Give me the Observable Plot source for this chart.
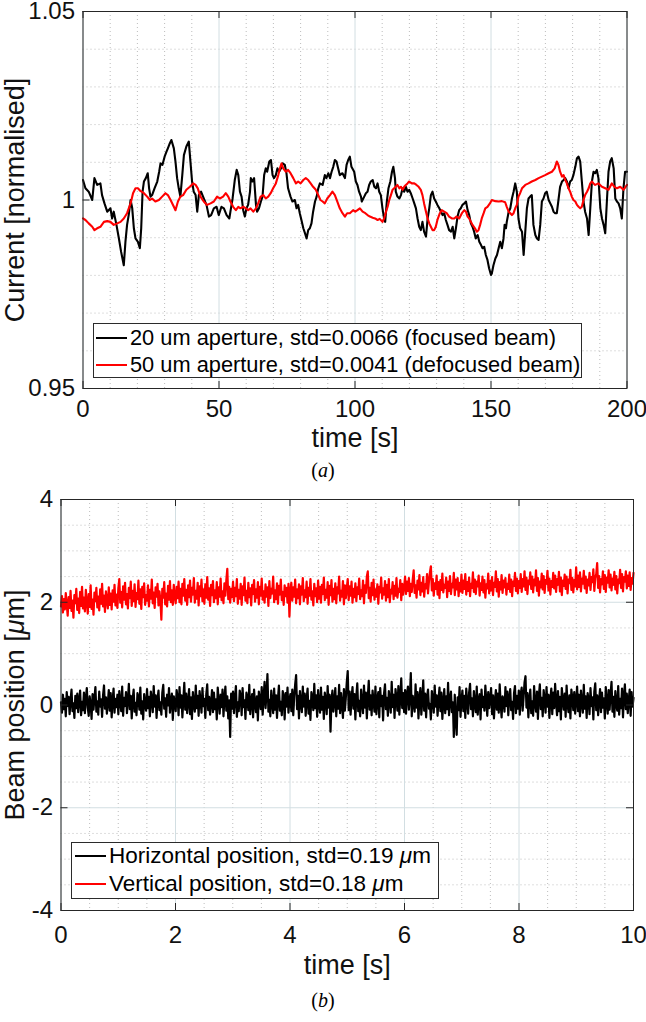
<!DOCTYPE html>
<html><head><meta charset="utf-8">
<script src="https://cdn.jsdelivr.net/npm/d3@7"></script>
<script src="https://cdn.jsdelivr.net/npm/@observablehq/plot@0.6"></script>
<style>
body{margin:0;background:#fff;}
#fig{position:relative;width:646px;height:1022px;overflow:hidden;font-family:"Liberation Sans",Arial,Helvetica,sans-serif;color:#000;}
.panel{position:absolute;left:0;}
.legend{position:absolute;background:#fff;border:1px solid #2b2b2b;box-sizing:border-box;}
.legend .row{position:absolute;left:0;right:0;height:28px;display:flex;align-items:center;white-space:nowrap;}
.legend .sw{display:inline-block;height:0;border-top:2px solid #000;}
.caption{position:absolute;left:0;width:646px;text-align:center;font-family:"Liberation Serif","Times New Roman",serif;font-size:20px;line-height:22px;}
</style>
</head><body>
<div id="fig"></div>
<script>
// ---------------- Panel (a): normalised current vs time ----------------
const aTimeTicks = [0, 50, 100, 150, 200];
const aCurrentTicks = [0.95, 1, 1.05];
const aLegend = ["20 um aperture, std=0.0066 (focused beam)", "50 um aperture, std=0.0041 (defocused beam)"];
// [time s, normalised current]
const aperture20 = [[0,1.0053],[0.9,1.0031],[2.1,1.0022],[3.4,1.0000],[4.2,1.0058],[5.2,1.0040],[6.4,1.0044],[7.0,1.0013],[7.9,0.9991],[8.9,0.9969],[10.1,0.9978],[10.7,0.9951],[11.3,0.9969],[12.3,0.9934],[13.2,0.9898],[14.0,0.9863],[15.0,0.9827],[15.6,0.9889],[16.2,0.9934],[16.8,0.9960],[17.5,1.0000],[18.1,0.9978],[18.7,0.9925],[19.3,0.9898],[20.2,0.9889],[20.9,0.9872],[21.4,0.9925],[21.9,1.0022],[22.4,1.0049],[23.1,1.0058],[23.8,1.0071],[24.3,1.0031],[24.8,1.0009],[25.4,1.0013],[26.3,1.0031],[27.3,1.0049],[28.0,1.0075],[28.5,1.0097],[29.2,1.0093],[30.0,1.0115],[30.7,1.0128],[31.2,1.0137],[31.9,1.0150],[32.5,1.0159],[33.4,1.0137],[34.0,1.0102],[34.6,1.0058],[35.2,1.0031],[35.8,1.0009],[36.5,1.0066],[37.1,1.0119],[38.0,1.0142],[38.9,1.0155],[39.5,1.0102],[40.1,1.0049],[40.7,1.0022],[41.4,1.0013],[42.0,0.9969],[42.6,1.0013],[43.4,1.0022],[44.4,1.0004],[45.4,0.9987],[46.3,0.9956],[47.1,0.9960],[48.1,0.9978],[49.1,0.9982],[49.9,0.9960],
[50.9,0.9982],[51.8,0.9978],[52.8,0.9960],[53.8,0.9951],[54.2,0.9969],[55.0,1.0004],[55.8,1.0053],[56.5,1.0080],[57.1,1.0066],[57.7,1.0022],[58.3,1.0009],[58.9,0.9973],[59.5,0.9956],[60.1,0.9978],[60.7,0.9987],[61.4,1.0022],[61.7,1.0058],[62.3,1.0049],[62.9,1.0058],[63.6,0.9987],[64.0,0.9969],[64.7,0.9978],[65.4,0.9996],[66.0,1.0009],[66.6,1.0066],[67.2,1.0084],[67.7,1.0075],[68.5,1.0102],[69.1,1.0106],[69.7,1.0066],[70.2,1.0058],[70.9,1.0066],[71.5,1.0084],[72.1,1.0075],[72.8,1.0084],[73.4,1.0097],[74.2,1.0093],[74.8,1.0071],[75.4,1.0031],[76.3,1.0009],[77.0,0.9996],[77.9,1.0000],[78.5,0.9978],[79.1,0.9987],[79.7,0.9965],[80.3,0.9947],[81.0,0.9925],[81.6,0.9912],[82.2,0.9898],[82.8,0.9920],[83.4,0.9925],[84.0,0.9938],[84.6,0.9969],[85.3,0.9996],[85.9,1.0009],[86.5,1.0031],[87.1,1.0044],[88.1,1.0040],[88.9,1.0066],[89.5,1.0058],[90.2,1.0071],[90.8,1.0058],[91.4,1.0075],[92.0,1.0088],[92.6,1.0106],[93.2,1.0102],[93.8,1.0084],[94.4,1.0066],[95.4,1.0071],[96.3,1.0058],[96.9,1.0093],[97.5,1.0106],[98.1,1.0115],[98.7,1.0088],
[99.7,1.0075],[100.3,1.0049],[100.9,1.0040],[101.5,1.0022],[102.2,1.0009],[102.5,0.9996],[103.4,1.0009],[104.0,1.0018],[104.6,1.0022],[105.2,1.0040],[105.8,1.0049],[106.5,1.0053],[107.1,1.0035],[107.7,1.0031],[108.3,1.0044],[108.9,1.0022],[109.5,1.0013],[110.1,0.9978],[110.7,0.9951],[111.1,0.9942],[111.7,0.9996],[112.3,1.0031],[113.0,1.0049],[113.6,1.0075],[114.1,1.0088],[114.7,1.0058],[115.0,1.0022],[115.6,1.0009],[116.3,1.0004],[116.9,1.0013],[117.5,1.0031],[118.1,1.0022],[118.7,1.0035],[119.3,1.0022],[119.9,1.0027],[120.5,1.0018],[121.2,1.0004],[121.8,0.9991],[122.4,0.9978],[123.0,0.9951],[123.6,0.9929],[124.2,0.9920],[124.8,0.9942],[125.4,0.9916],[126.1,0.9903],[126.7,0.9951],[127.3,0.9978],[127.9,1.0013],[128.5,1.0022],[129.1,1.0004],[129.7,0.9996],[130.3,0.9987],[131.0,0.9978],[131.6,0.9969],[132.2,0.9960],[132.8,0.9965],[133.4,0.9947],[134.0,0.9934],[134.6,0.9920],[135.3,0.9916],[135.9,0.9929],[136.5,0.9898],[137.1,0.9925],[137.7,0.9956],[138.3,0.9973],[138.9,0.9978],[139.5,0.9987],[140.2,0.9991],[140.8,0.9996],[141.4,0.9973],[142.0,0.9960],[142.6,0.9938],[143.2,0.9929],[143.8,0.9916],[144.4,0.9898],[145.1,0.9907],[145.7,0.9889],[146.3,0.9881],[146.9,0.9872],[147.5,0.9876],[148.1,0.9854],[148.7,0.9841],[149.3,0.9819],[150.0,0.9801],
[150.3,0.9805],[150.9,0.9827],[151.6,0.9845],[152.2,0.9854],[152.8,0.9872],[153.4,0.9889],[154.0,0.9872],[154.6,0.9898],[155.0,0.9934],[155.5,0.9925],[155.8,0.9942],[156.5,0.9969],[157.1,0.9978],[157.7,1.0004],[158.3,1.0022],[158.9,1.0044],[159.5,1.0022],[160.1,0.9951],[160.7,0.9925],[161.4,0.9916],[162.0,0.9854],[162.6,0.9916],[163.2,0.9978],[163.8,1.0004],[164.4,1.0009],[165.0,1.0013],[165.6,0.9934],[166.3,0.9907],[166.9,0.9898],[167.5,0.9894],[168.1,0.9934],[168.7,0.9996],[169.3,1.0004],[169.9,1.0018],[170.5,1.0022],[171.2,1.0000],[171.8,0.9991],[172.4,0.9982],[173.0,0.9969],[173.6,0.9965],[174.2,0.9965],[174.8,1.0000],[175.4,1.0035],[176.1,1.0049],[176.7,1.0053],[177.3,1.0058],[177.9,1.0049],[178.5,1.0031],[179.1,1.0049],[179.7,1.0053],[180.3,1.0066],[181.0,1.0088],[181.6,1.0111],[182.2,1.0115],[182.8,1.0102],[183.4,1.0049],[184.0,0.9996],[184.6,0.9969],[185.3,0.9951],[185.9,0.9907],[186.5,0.9978],[187.1,1.0049],[187.7,1.0075],[188.3,1.0071],[188.9,1.0080],[189.5,1.0058],[190.2,0.9978],[190.8,0.9951],[191.4,0.9934],[192.0,0.9912],[192.6,0.9996],[193.2,1.0075],[193.8,1.0102],[194.4,1.0111],[195.1,1.0084],[195.7,1.0004],[196.3,0.9996],[196.9,0.9991],[197.5,0.9978],[198.1,0.9951],[198.7,1.0031],[199.3,1.0075],[200.0,1.0075]];
const aperture50 = [[0,0.9951],[0.9,0.9947],[2.1,0.9938],[3.4,0.9929],[4.2,0.9920],[5.2,0.9925],[6.4,0.9929],[7.7,0.9942],[8.9,0.9944],[10.1,0.9942],[11.3,0.9934],[12.6,0.9938],[13.8,0.9942],[15.0,0.9951],[16.2,0.9965],[17.5,0.9991],[18.4,1.0018],[19.3,1.0031],[20.2,1.0031],[21.1,1.0024],[22.4,1.0018],[23.6,1.0009],[24.6,1.0000],[25.4,1.0004],[26.6,0.9996],[27.9,1.0000],[29.1,1.0009],[30.3,1.0018],[31.2,1.0013],[32.2,1.0000],[33.4,0.9982],[34.0,0.9973],[34.9,0.9996],[35.8,1.0009],[36.8,1.0013],[38.0,1.0027],[39.3,1.0035],[40.5,1.0044],[41.4,1.0040],[42.2,1.0031],[43.2,1.0009],[44.4,0.9996],[45.6,0.9987],[46.9,0.9991],[48.1,0.9996],[49.3,1.0009],
[50.3,1.0004],[51.5,1.0009],[52.5,1.0018],[53.4,1.0009],[54.2,0.9996],[55.2,0.9982],[56.2,0.9973],[57.1,0.9982],[57.9,0.9978],[58.9,0.9982],[59.9,0.9978],[60.7,0.9973],[61.6,0.9978],[62.6,0.9969],[63.6,0.9978],[64.4,0.9991],[65.3,1.0009],[66.3,1.0013],[67.2,1.0004],[68.1,1.0009],[69.0,1.0018],[69.9,1.0031],[70.9,1.0044],[71.8,1.0066],[72.4,1.0084],[73.0,1.0097],[73.6,1.0084],[74.6,1.0075],[75.4,1.0080],[76.3,1.0071],[77.3,1.0058],[78.3,1.0044],[79.1,1.0049],[80.0,1.0044],[81.0,1.0053],[81.9,1.0058],[82.8,1.0053],[83.7,1.0044],[84.6,1.0035],[85.6,1.0027],[86.5,1.0013],[87.3,1.0000],[88.1,0.9996],[88.9,0.9991],[89.8,1.0004],[90.8,1.0013],[91.7,1.0022],[92.6,1.0013],[93.5,0.9996],[94.4,0.9978],[95.4,0.9965],[96.3,0.9956],[97.1,0.9965],[98.1,0.9965],[99.3,0.9973],
[100.1,0.9969],[100.9,0.9973],[101.8,0.9978],[102.8,0.9969],[103.8,0.9965],[104.6,0.9960],[105.5,0.9956],[106.5,0.9953],[107.4,0.9951],[108.3,0.9947],[109.1,0.9950],[110.1,0.9942],[110.7,0.9951],[111.4,0.9969],[112.0,0.9982],[112.6,1.0000],[113.2,1.0013],[113.8,1.0027],[114.4,1.0031],[115.0,1.0035],[115.6,1.0040],[116.3,1.0031],[116.9,1.0035],[117.5,1.0027],[118.1,1.0035],[118.7,1.0040],[119.3,1.0044],[119.9,1.0049],[120.9,1.0044],[121.8,1.0044],[122.6,1.0040],[123.4,1.0035],[124.2,1.0027],[124.8,1.0013],[125.4,0.9991],[126.1,0.9969],[126.7,0.9951],[127.3,0.9938],[127.9,0.9929],[128.5,0.9920],[129.1,0.9920],[129.7,0.9929],[130.3,0.9947],[131.2,0.9965],[131.9,0.9973],[132.8,0.9969],[133.7,0.9965],[134.6,0.9956],[135.6,0.9951],[136.5,0.9951],[137.3,0.9956],[138.3,0.9951],[139.3,0.9965],[140.2,0.9973],[140.8,0.9969],[141.4,0.9956],[142.0,0.9951],[142.6,0.9942],[143.2,0.9934],[144.1,0.9925],[144.8,0.9916],[145.4,0.9920],[146.0,0.9934],[146.6,0.9951],[147.3,0.9965],[147.9,0.9978],[148.7,0.9982],[149.6,0.9991],
[150.3,1.0000],[151.6,0.9997],[152.8,0.9996],[154.0,0.9997],[155.2,0.9994],[155.8,0.9982],[156.5,0.9969],[157.1,0.9965],[157.7,0.9960],[158.3,0.9965],[158.9,0.9978],[159.5,0.9987],[160.1,1.0009],[160.7,1.0018],[161.4,1.0031],[162.6,1.0040],[163.8,1.0044],[165.0,1.0049],[166.3,1.0053],[167.5,1.0058],[168.7,1.0062],[169.9,1.0066],[171.2,1.0071],[172.4,1.0075],[173.4,1.0084],[174.2,1.0102],[174.8,1.0093],[175.4,1.0075],[176.1,1.0062],[176.7,1.0066],[177.3,1.0053],[177.9,1.0044],[178.5,1.0031],[179.1,1.0022],[179.7,1.0009],[180.3,1.0000],[181.0,0.9996],[181.6,0.9987],[182.2,0.9982],[182.8,0.9978],[183.4,0.9982],[184.0,1.0000],[184.6,1.0013],[185.3,1.0022],[185.9,1.0031],[186.5,1.0044],[187.1,1.0049],[187.7,1.0044],[188.3,1.0040],[189.5,1.0044],[190.8,1.0035],[192.0,1.0031],[193.2,1.0027],[194.4,1.0044],[195.4,1.0035],[196.3,1.0031],[197.5,1.0035],[198.7,1.0027],[200.0,1.0040]];

// ---------------- Panel (b): beam position vs time ----------------
const bTimeTicks = [0, 2, 4, 6, 8, 10];
const bPositionTicks = [-4, -2, 0, 2, 4];
const bLegend = ["Horizontal position, std=0.19 \u03bcm", "Vertical position, std=0.18 \u03bcm"];
const bDuration = 10; // s, samples evenly spaced over the record
// position in um, one row per second
const horizontalPosition = [
0.05,-0.15,0.20,-0.08,0.12,-0.22,0.25,-0.02,0.16,-0.18,0.09,0.30,-0.12,0.03,-0.25,0.18,-0.06,0.22,-0.14,0.10,0.28,-0.20,0.06,-0.10,0.24,-0.16,0.13,0.33,-0.05,-0.21,0.17,0.01,-0.27,0.21,-0.09,0.14,0.35,-0.13,0.07,-0.19,0.26,-0.03,0.11,-0.23,0.19,0.38,-0.07,0.15,-0.17,0.04,0.29,-0.11,0.23,-0.24,0.08,0.32,-0.15,0.12,-0.04,0.20,
-0.18,0.27,0.06,-0.12,0.36,-0.21,0.14,-0.02,0.25,-0.16,0.09,0.41,-0.08,0.18,-0.26,0.11,0.30,-0.13,0.04,-0.20,0.23,0.15,-0.09,0.34,-0.17,0.07,-0.28,0.21,0.02,-0.11,0.31,-0.06,0.16,-0.22,0.26,0.10,-0.14,0.37,-0.03,0.19,-0.25,0.12,0.28,-0.10,0.05,-0.19,0.24,0.39,-0.07,0.13,-0.23,0.20,-0.01,0.33,-0.15,0.08,0.22,-0.29,0.17,0.03,
-0.12,0.29,0.14,-0.20,0.35,-0.05,0.19,-0.24,0.10,0.43,-0.09,0.22,-0.16,0.06,0.31,-0.18,0.15,-0.27,0.25,0.01,-0.13,0.38,-0.06,0.18,-0.21,0.27,0.08,-0.15,0.33,-0.02,0.12,-0.25,0.21,0.40,-0.10,0.16,-0.19,0.04,0.29,-0.14,0.24,-0.08,0.11,-0.28,0.34,0.07,-0.17,0.20,-0.04,0.30,-0.22,0.13,0.36,-0.11,0.17,-0.26,0.09,-0.62,0.22,-0.07,
0.26,-0.16,0.12,0.37,-0.23,0.05,-0.12,0.28,0.18,-0.20,0.33,-0.04,0.09,-0.27,0.24,0.14,-0.10,0.39,-0.18,0.07,0.21,-0.24,0.30,0.02,-0.14,0.17,-0.30,0.26,0.11,-0.08,0.35,-0.19,0.15,0.45,-0.06,0.20,0.60,-0.13,0.10,-0.22,0.28,0.04,-0.16,0.32,-0.09,0.19,-0.25,0.13,0.38,-0.11,0.06,-0.20,0.27,0.16,-0.28,0.23,-0.03,0.34,-0.15,0.09,
0.21,-0.12,0.30,-0.20,0.15,0.40,0.58,-0.08,0.18,-0.26,0.27,0.05,-0.14,0.36,-0.03,0.22,-0.21,0.11,0.32,-0.17,0.08,-0.29,0.25,0.14,-0.10,0.41,-0.06,0.19,-0.23,0.29,0.02,-0.15,0.34,-0.09,0.16,-0.27,0.24,0.12,-0.18,0.37,-0.05,0.20,-0.52,0.10,0.28,-0.13,0.06,0.33,-0.22,0.17,-0.07,0.39,-0.16,0.23,0.01,-0.25,0.31,-0.11,0.14,0.44,
0.66,-0.10,0.26,-0.19,0.13,0.35,-0.07,0.21,-0.28,0.17,0.42,-0.12,0.08,-0.22,0.30,0.03,-0.16,0.38,-0.05,0.24,-0.26,0.15,0.47,-0.09,0.19,-0.20,0.28,0.06,-0.13,0.36,-0.18,0.11,0.25,-0.24,0.33,-0.02,0.18,-0.30,0.22,0.40,-0.08,0.14,-0.21,0.27,0.09,-0.15,0.45,-0.04,0.20,-0.25,0.31,0.12,-0.11,0.37,-0.19,0.16,0.52,-0.06,0.23,-0.14,
0.29,-0.17,0.21,0.36,-0.09,0.14,0.62,-0.22,0.18,0.04,-0.13,0.40,-0.05,0.25,-0.26,0.12,0.33,-0.19,0.08,0.48,-0.11,0.22,-0.24,0.16,0.30,-0.07,0.02,-0.28,0.27,0.13,-0.15,0.38,-0.03,0.19,-0.21,0.10,0.34,-0.12,0.24,-0.27,0.06,0.31,-0.16,0.17,-0.08,0.43,-0.20,0.11,0.26,-0.14,0.05,-0.62,0.20,-0.30,-0.58,0.15,-0.10,0.35,-0.23,0.09,
0.28,-0.12,0.18,-0.25,0.32,0.06,-0.17,0.24,0.41,-0.08,0.13,-0.22,0.27,0.01,-0.14,0.36,-0.19,0.10,0.21,-0.28,0.30,-0.04,0.16,-0.11,0.38,0.07,-0.21,0.25,-0.06,0.12,0.33,-0.18,0.19,-0.26,0.08,0.29,-0.09,0.22,-0.15,0.40,0.03,-0.24,0.17,0.11,-0.13,0.35,-0.02,0.26,-0.20,0.14,0.31,-0.10,0.06,-0.27,0.23,0.37,-0.16,0.18,-0.07,0.28,
-0.19,0.21,0.34,-0.11,0.15,0.44,0.56,-0.05,0.23,-0.24,0.12,0.30,-0.16,0.07,-0.21,0.37,0.02,-0.13,0.26,-0.27,0.18,0.40,-0.08,0.14,-0.22,0.29,0.09,-0.15,0.35,-0.03,0.20,-0.25,0.11,0.32,-0.18,0.24,-0.06,0.41,0.05,-0.20,0.27,-0.12,0.16,-0.28,0.33,0.10,-0.09,0.22,-0.23,0.38,0.01,-0.14,0.19,-0.26,0.30,0.13,-0.10,0.25,-0.17,0.08,
0.36,-0.12,0.20,-0.22,0.28,0.04,-0.15,0.39,-0.07,0.17,-0.25,0.23,0.11,-0.18,0.33,-0.02,0.15,-0.28,0.26,0.42,-0.10,0.19,-0.20,0.08,0.31,-0.14,0.24,-0.05,0.13,-0.26,0.35,0.06,-0.17,0.29,-0.09,0.21,0.45,-0.13,0.16,-0.23,0.27,0.02,-0.11,0.37,-0.19,0.12,-0.06,0.32,-0.24,0.18,0.40,-0.08,0.22,-0.16,0.09,0.30,-0.21,0.25,-0.03,0.14];
const verticalPosition = [
1.92,2.12,1.80,2.06,1.86,2.18,1.96,1.74,2.10,1.89,2.22,1.83,2.03,1.70,2.14,1.98,2.26,1.85,2.07,1.79,2.20,1.93,2.30,1.88,2.09,1.82,2.24,2.00,1.78,2.16,1.91,2.33,1.87,2.05,1.76,2.19,2.02,2.28,1.90,2.11,1.84,2.25,1.97,2.36,1.92,2.13,1.81,2.21,2.04,1.88,2.29,1.95,2.17,1.86,2.23,2.01,2.34,1.94,2.15,1.89,
2.27,2.45,1.99,2.20,1.90,2.31,2.05,2.38,1.96,2.16,1.88,2.28,2.08,2.40,1.93,2.22,2.02,2.35,1.91,2.18,2.06,2.42,1.97,2.25,1.87,2.30,2.10,2.37,1.95,2.14,2.03,2.33,1.92,2.24,2.07,2.44,1.98,2.19,1.89,2.29,2.11,2.36,1.94,2.21,2.04,1.66,2.26,2.09,2.39,1.96,2.17,1.92,2.32,2.05,2.41,2.00,2.23,1.95,2.34,2.12,
1.98,2.30,2.08,2.40,2.00,2.26,1.96,2.36,2.13,2.45,2.03,2.24,1.95,2.33,2.10,2.42,2.01,2.28,2.15,2.47,1.99,2.22,2.07,2.38,1.94,2.31,2.12,2.44,2.02,2.25,1.97,2.35,2.09,2.49,2.05,2.27,1.93,2.34,2.14,2.41,2.00,2.23,2.08,2.39,1.96,2.29,2.11,2.46,2.04,2.21,1.98,2.37,2.13,2.43,2.65,2.06,2.30,1.99,2.26,2.10,
2.40,2.02,2.28,2.12,2.45,1.97,2.24,2.07,2.36,1.95,2.31,2.14,2.48,2.03,2.22,1.98,2.38,2.10,2.27,1.94,2.34,2.16,2.43,2.01,2.25,2.09,2.39,1.96,2.30,2.13,2.46,2.05,2.21,1.99,2.35,2.11,2.29,1.93,2.41,2.08,2.26,2.17,2.50,2.00,2.23,2.06,2.37,1.97,2.32,2.15,2.44,2.04,2.20,1.95,2.33,2.12,2.28,1.99,2.36,1.72,
2.22,2.38,2.03,2.29,2.11,2.44,1.98,2.25,2.08,2.35,1.96,2.31,2.15,2.47,2.02,2.23,2.10,2.40,1.97,2.28,2.13,2.45,2.05,2.21,1.94,2.36,2.12,2.27,2.00,2.42,2.07,2.30,1.99,2.34,2.16,2.48,2.04,2.24,2.09,2.39,1.95,2.32,2.14,2.43,2.01,2.26,2.06,2.37,1.98,2.29,2.17,2.50,2.03,2.22,2.11,2.41,1.96,2.33,2.08,2.27,
2.45,2.04,2.31,2.13,2.40,1.99,2.26,2.10,2.37,2.02,2.29,2.16,2.46,2.06,2.23,2.12,2.42,1.98,2.33,2.18,2.50,2.60,2.08,2.28,2.01,2.38,2.14,2.44,2.05,2.25,2.11,2.35,1.97,2.30,2.19,2.48,2.07,2.27,2.15,2.41,2.03,2.34,2.10,2.45,2.00,2.24,2.17,2.39,2.06,2.32,2.13,2.47,2.09,2.26,2.20,2.43,2.04,2.36,2.15,2.29,
2.50,2.16,2.40,2.22,2.47,2.12,2.36,2.20,2.44,2.62,2.18,2.33,2.09,2.42,2.25,2.53,2.14,2.38,2.21,2.49,2.11,2.35,2.27,2.55,2.17,2.41,2.58,2.70,2.23,2.45,2.13,2.37,2.26,2.52,2.15,2.39,2.08,2.43,2.24,2.56,2.19,2.34,2.28,2.48,2.10,2.40,2.22,2.51,2.16,2.36,2.29,2.57,2.14,2.44,2.25,2.47,2.12,2.38,2.21,2.54,
2.18,2.42,2.26,2.55,2.15,2.39,2.22,2.48,2.12,2.36,2.28,2.58,2.20,2.44,2.16,2.40,2.31,2.52,2.13,2.37,2.24,2.50,2.19,2.43,2.09,2.35,2.27,2.56,2.17,2.41,2.23,2.49,2.14,2.38,2.30,2.60,2.21,2.45,2.11,2.39,2.25,2.53,2.18,2.42,2.29,2.47,2.15,2.36,2.26,2.54,2.20,2.44,2.12,2.40,2.32,2.57,2.22,2.46,2.17,2.41,
2.28,2.55,2.20,2.45,2.31,2.60,2.24,2.48,2.16,2.42,2.35,2.58,2.26,2.50,2.19,2.44,2.33,2.62,2.22,2.47,2.13,2.40,2.29,2.56,2.25,2.51,2.18,2.43,2.36,2.61,2.23,2.46,2.15,2.41,2.30,2.57,2.27,2.52,2.20,2.45,2.34,2.59,2.21,2.48,2.14,2.42,2.32,2.54,2.26,2.50,2.17,2.44,2.37,2.63,2.24,2.47,2.19,2.43,2.31,2.68,
2.25,2.52,2.30,2.58,2.21,2.46,2.36,2.61,2.27,2.50,2.18,2.44,2.33,2.57,2.24,2.49,2.39,2.64,2.22,2.47,2.55,2.76,2.28,2.51,2.19,2.45,2.35,2.60,2.26,2.53,2.20,2.48,2.38,2.62,2.29,2.54,2.23,2.46,2.34,2.59,2.25,2.51,2.17,2.44,2.37,2.63,2.28,2.55,2.21,2.49,2.40,2.60,2.27,2.52,2.32,2.58,2.24,2.47,2.36,2.57];

// ---------------- drawing ----------------
const W = 646;
const FONT = '"Liberation Sans", Arial, Helvetica, sans-serif';
const fig = document.getElementById("fig");

function drawPanel(c) {
  const frameW = W - c.marginLeft - c.marginRight;
  const frameH = c.height - c.marginTop - c.marginBottom;
  const minorX = d3.range(c.xDomain[0], c.xDomain[1] + c.xMinorStep / 2, c.xMinorStep).filter(v => !c.xTicks.some(t => Math.abs(t - v) < 1e-9));
  const minorY = d3.range(c.yDomain[0], c.yDomain[1] + c.yMinorStep / 2, c.yMinorStep).filter(v => !c.yTicks.some(t => Math.abs(t - v) < 1e-9));
  const tickLen = 7;
  const marks = [
    Plot.ruleX(minorX, {x: d => d, stroke: "#b5b5b5", strokeWidth: 0.9, strokeDasharray: "1,3"}),
    Plot.ruleY(minorY, {y: d => d, stroke: "#b5b5b5", strokeWidth: 0.9, strokeDasharray: "1,3"}),
    Plot.ruleX(c.xTicks, {x: d => d, stroke: "#d2dee2", strokeWidth: 1}),
    Plot.ruleY(c.yTicks, {y: d => d, stroke: "#d2dee2", strokeWidth: 1}),
    ...c.series.map(s => Plot.line(s.data, {x: s.x, y: s.y, stroke: s.color, strokeWidth: s.width, strokeLinejoin: "round", strokeLinecap: "round"})),
    Plot.frame({stroke: "#262626", strokeWidth: 1}),
    Plot.tickX(c.xTicks, {x: d => d, insetTop: frameH - tickLen, stroke: "#262626"}),
    Plot.tickX(c.xTicks, {x: d => d, insetBottom: frameH - tickLen, stroke: "#262626"}),
    Plot.tickY(c.yTicks, {y: d => d, insetRight: frameW - tickLen, stroke: "#262626"}),
    Plot.tickY(c.yTicks, {y: d => d, insetLeft: frameW - tickLen, stroke: "#262626"}),
    Plot.axisX(c.xTicks, {tickSize: 0, tickPadding: c.xTickPad, tickFormat: d => String(d), fontSize: c.tickFont, fill: "#111"}),
    Plot.axisY(c.yTicks, {tickSize: 0, tickPadding: c.yTickPad, tickFormat: d => String(d), fontSize: c.tickFont, fill: "#111"}),
    Plot.text([c.xLabel], {text: d => d, frameAnchor: "bottom", textAnchor: "middle", lineAnchor: "middle", dy: c.xLabelDy, fontSize: c.labelFont, fill: "#111"}),
    Plot.text([c.yLabel], {text: d => d, frameAnchor: "left", textAnchor: "middle", lineAnchor: "middle", dx: c.yLabelDx, rotate: -90, fontSize: c.labelFont, fill: "#111"})
  ];
  const svg = Plot.plot({
    width: W, height: c.height,
    marginTop: c.marginTop, marginBottom: c.marginBottom, marginLeft: c.marginLeft, marginRight: c.marginRight,
    x: {domain: c.xDomain, label: null},
    y: {domain: c.yDomain, label: null},
    style: {fontFamily: FONT, fontSize: c.tickFont + "px", background: "transparent", color: "#111", overflow: "visible"},
    marks
  });
  const wrap = document.createElement("div");
  wrap.className = "panel";
  wrap.style.top = c.top + "px";
  wrap.appendChild(svg);
  fig.appendChild(wrap);
  return svg;
}

function addLegend(box, labels, colors, font) {
  const lg = document.createElement("div");
  lg.className = "legend";
  Object.assign(lg.style, {left: box.left + "px", top: box.top + "px", width: box.width + "px", height: box.height + "px", fontSize: font + "px"});
  labels.forEach((lab, i) => {
    const row = document.createElement("div");
    row.className = "row";
    row.style.top = (box.rowCenters[i] - 14) + "px";
    row.style.paddingLeft = box.swatchPad + "px";
    const sw = document.createElement("span");
    sw.className = "sw";
    sw.style.width = box.swatch + "px";
    sw.style.borderTopColor = colors[i];
    sw.style.marginRight = box.gap + "px";
    const tx = document.createElement("span");
    tx.innerHTML = lab.replace("\u03bc", "<i>\u03bc</i>");
    row.appendChild(sw); row.appendChild(tx);
    lg.appendChild(row);
  });
  fig.appendChild(lg);
}

function addCaption(letter, centerY) {
  const cap = document.createElement("div");
  cap.className = "caption";
  cap.style.top = (centerY - 11) + "px";
  cap.innerHTML = "(<i>" + letter + "</i>)";
  fig.appendChild(cap);
}

// Panel (a)
drawPanel({
  top: 1, height: 460, marginTop: 10, marginBottom: 73, marginLeft: 82.5, marginRight: 19.5,
  xDomain: [0, 200], yDomain: [0.95, 1.05], xTicks: aTimeTicks, yTicks: aCurrentTicks, xMinorStep: 10, yMinorStep: 0.01,
  tickFont: 24, labelFont: 27, xTickPad: 11, yTickPad: 8,
  xLabel: "time [s]", yLabel: "Current [normalised]", xLabelDy: 50, yLabelDx: -68,
  series: [
    {data: aperture20, x: d => d[0], y: d => d[1], color: "#000000", width: 2.1},
    {data: aperture50, x: d => d[0], y: d => d[1], color: "#ff0000", width: 2.1}
  ]
});
addLegend({left: 93, top: 323, width: 489, height: 55, rowCenters: [14, 41], swatchPad: 2, swatch: 31, gap: 3}, aLegend, ["#000", "#ff0000"], 21.8);
addCaption("a", 470);

// Panel (b)
const hDt = bDuration / (horizontalPosition.length - 1);
const vDt = bDuration / (verticalPosition.length - 1);
const svgB = drawPanel({
  top: 490, height: 532, marginTop: 9, marginBottom: 112, marginLeft: 60.5, marginRight: 13,
  xDomain: [0, 10], yDomain: [-4, 4], xTicks: bTimeTicks, yTicks: bPositionTicks, xMinorStep: 0.5, yMinorStep: 0.5,
  tickFont: 24, labelFont: 27, xTickPad: 15, yTickPad: 8,
  xLabel: "time [s]", yLabel: "Beam position [\u03bcm]", xLabelDy: 55, yLabelDx: -46,
  series: [
    {data: horizontalPosition, x: (d, i) => i * hDt, y: d => d, color: "#000000", width: 2.2},
    {data: verticalPosition, x: (d, i) => i * vDt, y: d => d, color: "#ff0000", width: 2.2}
  ]
});
// italic mu in the y label (TeX style)
d3.select(svgB).selectAll("text").filter(function () { return this.textContent === "Beam position [\u03bcm]"; })
  .each(function () {
    const t = d3.select(this);
    t.text(null);
    t.append("tspan").text("Beam position [");
    t.append("tspan").attr("font-style", "italic").text("\u03bc");
    t.append("tspan").text("m]");
  });
addLegend({left: 71, top: 842, width: 368, height: 57, rowCenters: [13, 41], swatchPad: 3, swatch: 31, gap: 3}, bLegend, ["#000", "#ff0000"], 22.5);
addCaption("b", 1000);
</script>
</body></html>
